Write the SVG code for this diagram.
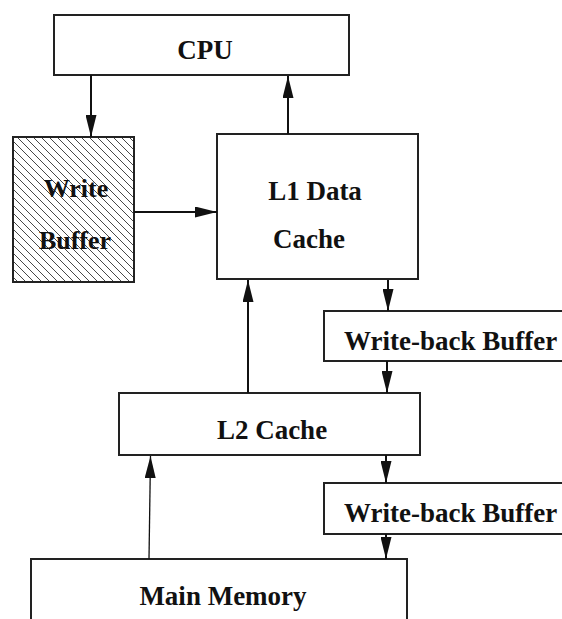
<svg xmlns="http://www.w3.org/2000/svg" width="562" height="619" viewBox="0 0 562 619">
<defs>
<pattern id="hatch" patternUnits="userSpaceOnUse" width="8" height="8">
<path d="M-2,-2 L10,10 M-2,6 L2,10 M6,-2 L10,2" stroke="#333" stroke-width="0.9" fill="none"/>
</pattern>
<marker id="arr" markerUnits="userSpaceOnUse" markerWidth="22" markerHeight="11" refX="22" refY="5.5" orient="auto">
<path d="M0,0 L22,5.5 L0,11 z" fill="#111"/>
</marker>
</defs>
<style>
.box{fill:#fff;stroke:#222;stroke-width:2}
.lbl{font-family:"Liberation Serif","Times New Roman",serif;font-weight:bold;font-size:27px;fill:#111}
.c{stroke:#111;stroke-width:2;fill:none}
</style>
<g id="cpu">
<rect class="box" x="54" y="15" width="295" height="60"/>
<text class="lbl" x="205" y="59" text-anchor="middle">CPU</text>
</g>
<g id="write-buffer">
<rect class="box" x="13" y="137" width="121" height="145" style="fill:url(#hatch)"/>
<text class="lbl" x="76" y="197" text-anchor="middle" style="font-size:26px">Write</text>
<text class="lbl" x="75" y="249" text-anchor="middle" style="font-size:26px">Buffer</text>
</g>
<g id="l1-data-cache">
<rect class="box" x="217" y="134" width="201" height="145"/>
<text class="lbl" x="315" y="200" text-anchor="middle">L1 Data</text>
<text class="lbl" x="309" y="248" text-anchor="middle">Cache</text>
</g>
<g id="write-back-buffer-1">
<rect class="box" x="324" y="311" width="250" height="50"/>
<text class="lbl" x="344" y="350">Write-back Buffer</text>
</g>
<g id="l2-cache">
<rect class="box" x="119" y="393" width="301" height="62"/>
<text class="lbl" x="272" y="439" text-anchor="middle">L2 Cache</text>
</g>
<g id="write-back-buffer-2">
<rect class="box" x="324" y="483" width="250" height="51"/>
<text class="lbl" x="344" y="522">Write-back Buffer</text>
</g>
<g id="main-memory">
<rect class="box" x="31" y="559" width="376" height="80"/>
<text class="lbl" x="223" y="605" text-anchor="middle">Main Memory</text>
</g>
<g id="connectors">
<line class="c" x1="91" y1="75" x2="91" y2="137" marker-end="url(#arr)"/>
<line class="c" x1="288" y1="134" x2="288" y2="76" marker-end="url(#arr)"/>
<line class="c" x1="134" y1="212" x2="217" y2="212" marker-end="url(#arr)"/>
<line class="c" x1="248" y1="393" x2="248" y2="280" marker-end="url(#arr)"/>
<line class="c" x1="388" y1="280" x2="388" y2="311" marker-end="url(#arr)"/>
<line class="c" x1="387" y1="361" x2="387" y2="393" marker-end="url(#arr)"/>
<line class="c" x1="149" y1="559" x2="150.5" y2="456" style="stroke-width:1.3" marker-end="url(#arr)"/>
<line class="c" x1="386" y1="455" x2="386" y2="483" marker-end="url(#arr)"/>
<line class="c" x1="386" y1="534" x2="386" y2="559" marker-end="url(#arr)"/>
</g>
</svg>
